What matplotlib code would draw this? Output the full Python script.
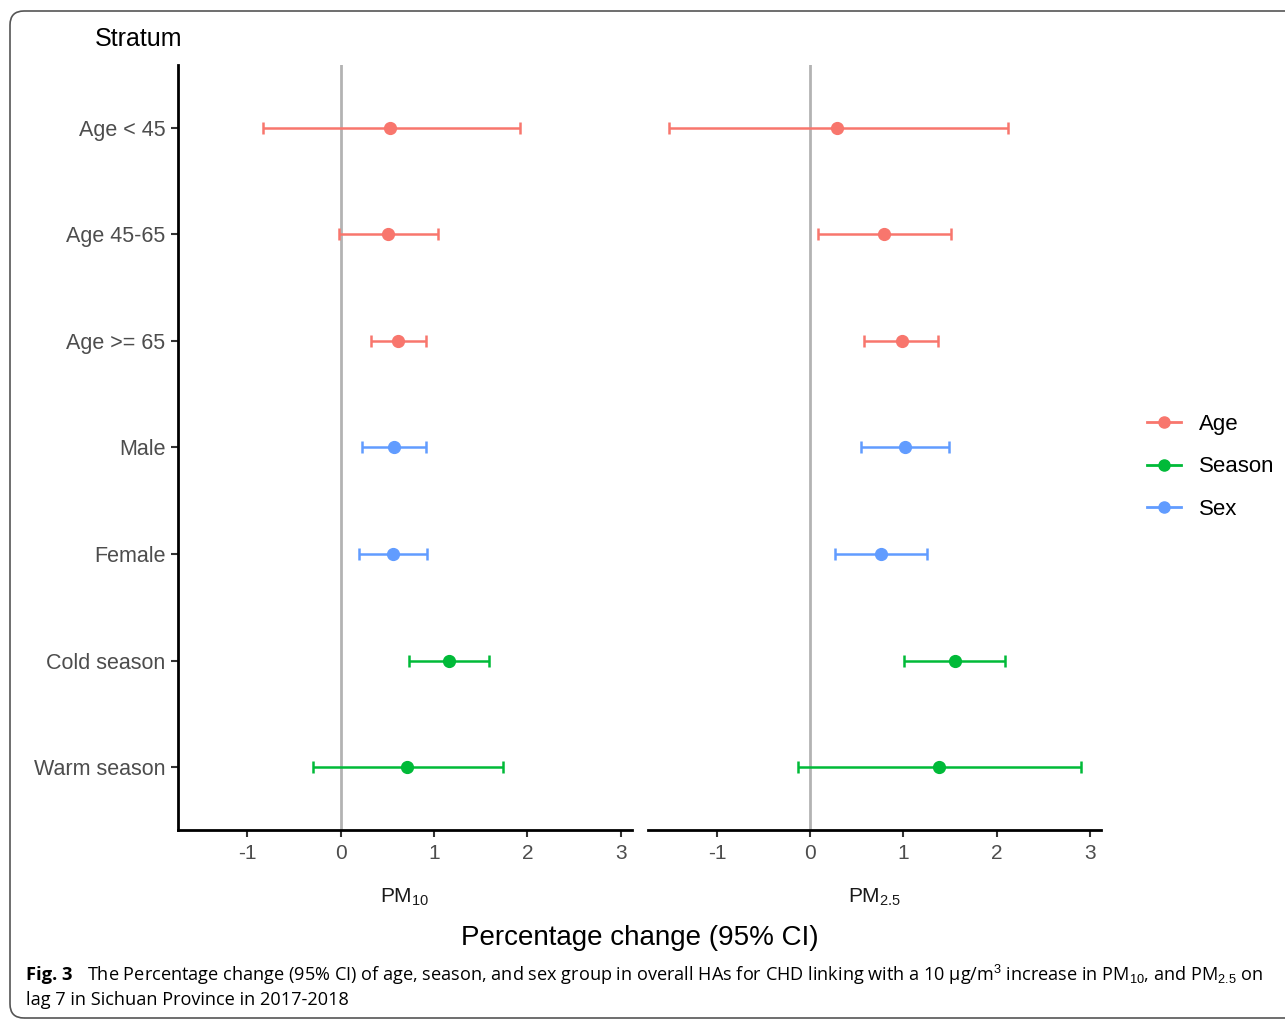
import matplotlib
matplotlib.use("Agg")
import matplotlib.pyplot as plt
from matplotlib.patches import FancyBboxPatch
from matplotlib.lines import Line2D
from matplotlib.transforms import IdentityTransform

# ---- data ----
categories = ["Age < 45", "Age 45-65", "Age >= 65", "Male", "Female",
              "Cold season", "Warm season"]
groups = ["Age", "Age", "Age", "Sex", "Sex", "Season", "Season"]

pm10_est = [0.53, 0.51, 0.61, 0.57, 0.56, 1.16, 0.71]
pm10_low = [-0.83, -0.02, 0.33, 0.23, 0.20, 0.73, -0.30]
pm10_high = [1.92, 1.04, 0.91, 0.92, 0.93, 1.59, 1.74]

pm25_est = [0.29, 0.79, 0.98, 1.02, 0.76, 1.55, 1.38]
pm25_low = [-1.51, 0.08, 0.58, 0.55, 0.27, 1.01, -0.13]
pm25_high = [2.12, 1.51, 1.37, 1.49, 1.25, 2.09, 2.91]

legend_groups = ["Age", "Season", "Sex"]
group_colors = {"Age": "#F8766D", "Season": "#00BA38", "Sex": "#619CFF"}
x_ticks = [-1, 0, 1, 2, 3]
panel_labels = [r"PM$_{10}$", r"PM$_{2.5}$"]

plt.rcParams['font.family'] = ['Liberation Sans', 'DejaVu Sans']
plt.rcParams['mathtext.fontset'] = 'custom'
plt.rcParams['mathtext.rm'] = 'Liberation Sans'
plt.rcParams['mathtext.it'] = 'Liberation Sans:italic'
plt.rcParams['mathtext.bf'] = 'Liberation Sans:bold'

W, H = 1285, 1021
fig = plt.figure(figsize=(W / 100, H / 100), dpi=100)
fig.patch.set_facecolor("white")

def fx(px):
    return px / W

def fy(py):
    return 1 - py / H

ax_top, ax_bot = 65, 830
ax1 = fig.add_axes([fx(178), fy(ax_bot), fx(632 - 178), (ax_bot - ax_top) / H])
ax2 = fig.add_axes([fx(648), fy(ax_bot), fx(1101 - 648), (ax_bot - ax_top) / H])

ypos = list(range(1, len(categories) + 1))
tick_gray = "#4D4D4D"

for ax, est, lo, hi, lab in [(ax1, pm10_est, pm10_low, pm10_high, panel_labels[0]),
                             (ax2, pm25_est, pm25_low, pm25_high, panel_labels[1])]:
    ax.axvline(0, color="#B3B3B3", lw=2.0, zorder=1)
    for i, y in enumerate(ypos):
        c = group_colors[groups[i]]
        ax.errorbar([est[i]], [y], xerr=[[est[i] - lo[i]], [hi[i] - est[i]]],
                    fmt="o", color=c, ecolor=c, elinewidth=1.8, capsize=4,
                    capthick=1.8, markersize=8.5, zorder=3)
    ax.set_xlim(-1.74, 3.12)
    ax.set_ylim(7.59, 0.41)
    ax.set_xticks(x_ticks)
    ax.set_xticklabels([str(t) for t in x_ticks])
    for s in ["top", "right"]:
        ax.spines[s].set_visible(False)
    ax.spines["bottom"].set_linewidth(2.0)
    ax.spines["left"].set_linewidth(2.0)
    ax.tick_params(axis="x", length=5, width=1.5, color="#333333",
                   labelsize=15, labelcolor=tick_gray, pad=5)
    ax.text(0.5, -0.088, lab, transform=ax.transAxes, ha="center", va="center",
            fontsize=15, color="#1A1A1A")

ax1.set_yticks(ypos)
ax1.set_yticklabels(categories)
ax1.tick_params(axis="y", length=5, width=1.5, color="#333333",
                labelsize=15.5, labelcolor=tick_gray, pad=4)

ax2.spines["left"].set_visible(False)
ax2.set_yticks([])

# titles
fig.text(fx(95), fy(39), "Stratum", ha="left", va="center", fontsize=18,
         color="black")
fig.text(fx(640), fy(938), "Percentage change (95% CI)", ha="center",
         va="center", fontsize=20, color="black")

# legend
handles = [Line2D([0], [0], color=group_colors[g], lw=2, marker="o",
                  markersize=8) for g in legend_groups]
fig.legend(handles, legend_groups, loc="center left",
           bbox_to_anchor=(fx(1147), fy(467)), frameon=False, fontsize=16,
           handlelength=1.55, labelspacing=0.96, handletextpad=0.8,
           borderpad=0, borderaxespad=0)

# caption
cap_font = ["Open Sans", "DejaVu Sans"]
fig.text(fx(26), fy(975), "Fig. 3", ha="left", va="center", fontsize=13.2,
         fontweight="bold", family=cap_font)
fig.text(fx(87), fy(975),
         r"The Percentage change (95% CI) of age, season, and sex group in overall HAs for CHD linking with a 10 µg/m$^{3}$ increase in PM$_{10}$, and PM$_{2.5}$ on",
         ha="left", va="center", fontsize=13.1, family=cap_font)
fig.text(fx(26), fy(1000), "lag 7 in Sichuan Province in 2017-2018", ha="left",
         va="center", fontsize=13.1, family=cap_font)

# outer frame
frame = FancyBboxPatch((10, 3), 1400, 1007,
                       boxstyle="round,pad=0,rounding_size=14",
                       transform=IdentityTransform(), facecolor="none",
                       edgecolor="#555555", lw=1.2)
fig.patches.append(frame)

fig.savefig("out.png", dpi=100)
